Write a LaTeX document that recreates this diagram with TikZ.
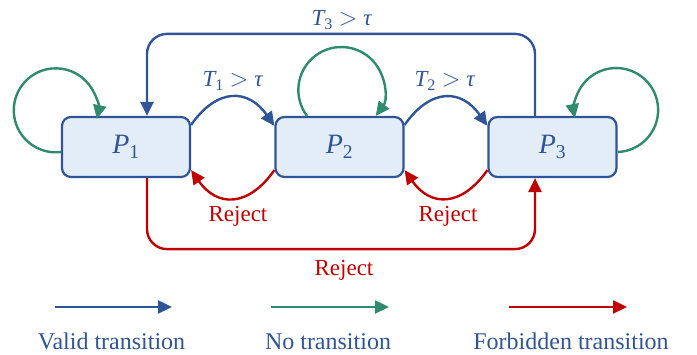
\documentclass[tikz,border=0pt]{standalone}
\usepackage{amsmath}
\usepackage{fontspec}
\setmainfont{Liberation Serif}
\usetikzlibrary{arrows.meta}
\definecolor{vblue}{HTML}{2F5597}
\definecolor{ngreen}{HTML}{2E8B6E}
\definecolor{fred}{HTML}{C00000}
\definecolor{boxfill}{HTML}{E2EDF8}
\newcommand\vname[2]{$\textit{#1}_{\textup{#2}}$}
\begin{document}
\begin{tikzpicture}[x=1pt,y=1pt,
  pstate/.style={draw=vblue, line width=2.2pt, fill=boxfill, rounded corners=9pt,
    minimum width=128pt, minimum height=60pt, inner sep=0pt, text=vblue,
    font=\fontsize{28}{32}\selectfont},
  arrowtip/.style={-{Triangle[length=14pt,width=13pt]}},
  valid/.style={draw=vblue, line width=2.4pt, arrowtip},
  stay/.style={draw=ngreen, line width=2.4pt, arrowtip},
  forb/.style={draw=fred, line width=2.4pt, arrowtip},
  mlab/.style={anchor=base, text=vblue, font=\fontsize{23}{26}\selectfont},
  rlab/.style={anchor=base, text=fred, font=\fontsize{23}{26}\selectfont},
  leglab/.style={anchor=base, text=vblue, font=\fontsize{24}{28}\selectfont}
]
\useasboundingbox (0,0) rectangle (697,355);

\node[pstate] (P1) at (126,208) {\vname{P}{1}};
\node[pstate] (P2) at (339.5,208) {\vname{P}{2}};
\node[pstate] (P3) at (552.5,208) {\vname{P}{3}};

% T3 long valid transition
\draw[valid, rounded corners=20pt] ([xshift=-17.5pt]P3.north) -- ++(0,82) -| ([xshift=21pt]P1.north);
\node[mlab] (t3) at (342,329) {\vname{T}{3} $>$ \textit{τ}};

% T1, T2
\draw[valid] ([yshift=-9pt]P1.north east) to[out=55,in=125,looseness=1.4] ([yshift=-10pt]P2.north west);
\draw[valid] ([yshift=-9pt]P2.north east) to[out=55,in=125,looseness=1.4] ([yshift=-10pt]P3.north west);
\node[mlab] (t1) at (233,268) {\vname{T}{1} $>$ \textit{τ}};
\node[mlab] (t2) at (445,268) {\vname{T}{2} $>$ \textit{τ}};

% Rejects
\draw[forb] ([yshift=8pt]P2.south west) to[out=-125,in=-55,looseness=1.4] ([yshift=8pt]P1.south east);
\draw[forb] ([yshift=8pt]P3.south west) to[out=-125,in=-55,looseness=1.4] ([yshift=8pt]P2.south east);
\node[rlab] (r1) at (238,133) {Reject};
\node[rlab] (r2) at (448,133) {Reject};
\draw[forb, rounded corners=20pt] ([xshift=21pt]P1.south) -- ++(0,-71) -| ([xshift=-17.5pt]P3.south);
\node[rlab] (r3) at (344,79) {Reject};

% self loops
\draw[stay] ([yshift=-5pt]P1.west) arc[start angle=-83, end angle=-372, radius=42pt];
\draw[stay] ([xshift=-32.5pt]P2.north) arc[start angle=217, end angle=-37, radius=43pt];
\draw[stay] ([yshift=-5pt]P3.east) arc[start angle=-88, end angle=191, radius=42pt];

% legend
\coordinate (va) at (55,48);
\coordinate (vb) at (172,48);
\coordinate (na) at (271,48);
\coordinate (nb) at (389,48);
\coordinate (fa) at (509,48);
\coordinate (fb) at (627,48);
\draw[valid] (va) -- (vb);
\draw[stay] (na) -- (nb);
\draw[forb] (fa) -- (fb);
\node[leglab] (lv) at (111.5,5) {Valid transition};
\node[leglab] (ln) at (328,5) {No transition};
\node[leglab] (lf) at (571,5) {Forbidden transition};
\end{tikzpicture}
\end{document}
